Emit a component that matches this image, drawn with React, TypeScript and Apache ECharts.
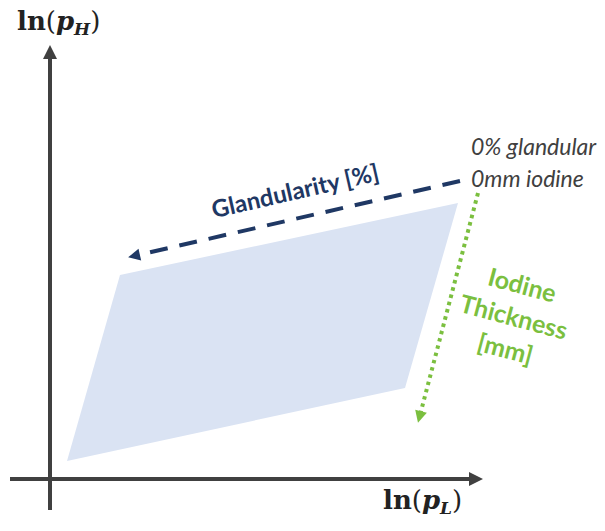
import React, { useEffect, useRef } from "react";
import * as echarts from "echarts";

// Data space: ln(p_L) horizontally, ln(p_H) vertically (arbitrary units)
const X_RANGE = [-1, 11.1];
const Y_RANGE = [-1.04, 9.58];

// Region covered by the material combinations (parallelogram)
const regionVertices: number[][] = [
  [1.4, 4.08],
  [8.16, 5.52],
  [7.1, 1.82],
  [0.34, 0.36],
];

// Axis arrows
const xAxisArrow: number[][] = [
  [-0.8, 0],
  [8.52, 0],
];
const yAxisArrow: number[][] = [
  [0, -0.62],
  [0, 8.54],
];

// Direction arrows
const glandularityArrow: number[][] = [
  [8.2, 5.96],
  [1.68, 4.46],
];
const iodineArrow: number[][] = [
  [8.56, 5.72],
  [7.39, 1.24],
];

// Texts
const yAxisName = { base: "ln", variable: "p", sub: "H" };
const xAxisName = { base: "ln", variable: "p", sub: "L" };
const originLabels = ["0% glandular", "0mm iodine"];
const glandularityLabel = "Glandularity [%]";
const iodineLabel = ["Iodine", "Thickness", "[mm]"];

const NAVY = "#1f3864";
const GREEN = "#7bbf3f";
const AXIS = "#404040";
const REGION = "#dae3f3";

const serif = "DejaVu Serif";
const mathRich = {
  ln: { fontFamily: serif, fontWeight: "bold", fontSize: 26, fill: "#222", color: "#222" },
  par: { fontFamily: serif, fontSize: 26, fill: "#222", color: "#222" },
  p: { fontFamily: serif, fontWeight: "bold", fontStyle: "italic", fontSize: 26, fill: "#222", color: "#222" },
  sub: { fontFamily: serif, fontWeight: "bold", fontStyle: "italic", fontSize: 17, padding: [16, 0, 0, 0], fill: "#222", color: "#222" },
};
const mathText = (n: { base: string; variable: string; sub: string }) =>
  `{ln|${n.base}}{par|(}{p|${n.variable}}{sub|${n.sub}}{par|)}`;

export default function App() {
  const ref = useRef<HTMLDivElement>(null);
  useEffect(() => {
    if (!ref.current) return;
    const chart = echarts.init(ref.current, null, { renderer: "svg" });
    const option: any = {
      animation: false,
      backgroundColor: "#ffffff",
      grid: { left: 0, right: 0, top: 0, bottom: 0 },
      xAxis: { type: "value", min: X_RANGE[0], max: X_RANGE[1], show: false },
      yAxis: { type: "value", min: Y_RANGE[0], max: Y_RANGE[1], show: false },
      series: [
        {
          type: "custom",
          coordinateSystem: "cartesian2d",
          data: [0],
          z: 1,
          renderItem: (_params: any, api: any) => ({
            type: "polygon",
            shape: { points: regionVertices.map((v) => api.coord(v)) },
            style: { fill: REGION },
          }),
        },
        {
          type: "lines",
          coordinateSystem: "cartesian2d",
          z: 3,
          symbol: ["none", "triangle"],
          symbolSize: 14,
          lineStyle: { color: AXIS, width: 4, opacity: 1 },
          data: [{ coords: xAxisArrow }, { coords: yAxisArrow }],
        },
        {
          type: "lines",
          coordinateSystem: "cartesian2d",
          z: 3,
          symbol: ["none", "triangle"],
          symbolSize: 12,
          lineStyle: { color: NAVY, width: 4, type: [18, 12], opacity: 1 },
          data: [{ coords: glandularityArrow }],
        },
        {
          type: "lines",
          coordinateSystem: "cartesian2d",
          z: 3,
          symbol: ["none", "triangle"],
          symbolSize: 12,
          lineStyle: { color: GREEN, width: 4, type: [3.5, 4], opacity: 1 },
          data: [{ coords: iodineArrow }],
        },
      ],
      graphic: [
        {
          type: "text",
          x: 17,
          y: 21,
          style: {
            text: mathText(yAxisName),
            rich: mathRich,
            align: "left",
            verticalAlign: "middle",
            textAlign: "left",
            textVerticalAlign: "middle",
          },
        },
        {
          type: "text",
          x: 383,
          y: 500,
          style: {
            text: mathText(xAxisName),
            rich: mathRich,
            align: "left",
            verticalAlign: "middle",
            textAlign: "left",
            textVerticalAlign: "middle",
          },
        },
        {
          type: "text",
          x: 471,
          y: 162,
          style: {
            text: originLabels.join("\n"),
            fill: "#404040",
            font: "italic 23px Lato",
            lineHeight: 32,
            align: "left",
            verticalAlign: "middle",
            textAlign: "left",
            textVerticalAlign: "middle",
          },
        },
        {
          type: "text",
          x: 295,
          y: 190,
          rotation: 0.225,
          style: {
            text: glandularityLabel,
            fill: NAVY,
            font: "bold 24px Lato",
            align: "center",
            verticalAlign: "middle",
            textAlign: "center",
            textVerticalAlign: "middle",
          },
        },
        {
          type: "text",
          x: 514,
          y: 316,
          rotation: -0.26,
          style: {
            text: iodineLabel.join("\n"),
            fill: GREEN,
            font: "bold 25px Lato",
            lineHeight: 33,
            align: "center",
            verticalAlign: "middle",
            textAlign: "center",
            textVerticalAlign: "middle",
          },
        },
      ],
    };
    chart.setOption(option);
    return () => chart.dispose();
  }, []);
  return (
    <div
      ref={ref}
      style={{ position: "absolute", left: 0, top: 0, width: 605, height: 531 }}
    />
  );
}
